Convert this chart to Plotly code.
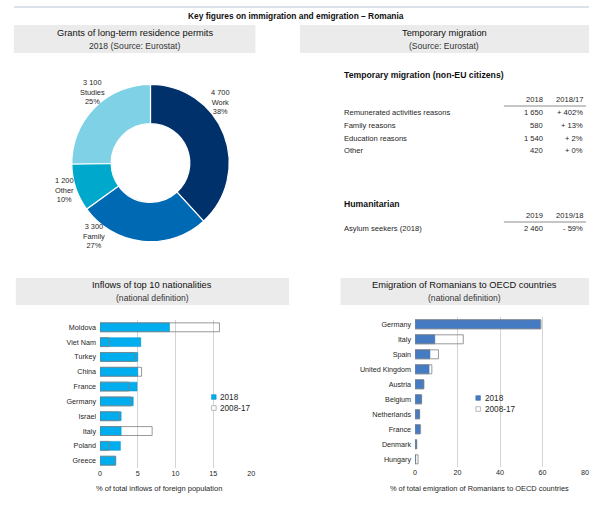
import plotly.graph_objects as go

W, H = 593, 519
FONT = "Liberation Sans, Arial, sans-serif"
TXT = "#262626"

# ---------------- data ----------------
permit_labels = ["Work", "Family", "Other", "Studies"]
permit_values = [4700, 3300, 1200, 3100]
permit_colors = ["#00316b", "#0069b4", "#00a8cb", "#7fd1e5"]

temp_rows = ["Remunerated activities reasons", "Family reasons", "Education reasons", "Other"]
temp_2018 = [1650, 580, 1540, 420]
temp_change = [402, 13, 2, 0]

hum_rows = ["Asylum seekers (2018)"]
hum_2019 = [2460]
hum_change = [-59]

inflow_countries = ["Moldova", "Viet Nam", "Turkey", "China", "France",
                    "Germany", "Israel", "Italy", "Poland", "Greece"]
inflow_2018 = [9.2, 5.4, 5.0, 5.0, 4.9, 4.4, 2.8, 2.8, 2.7, 2.1]
inflow_0817 = [15.8, 1.2, 4.6, 5.5, 3.8, 4.1, 2.5, 6.9, 1.2, 2.0]

emig_countries = ["Germany", "Italy", "Spain", "United Kingdom", "Austria",
                  "Belgium", "Netherlands", "France", "Denmark", "Hungary"]
emig_2018 = [59.0, 9.3, 7.0, 6.6, 4.2, 3.1, 2.2, 2.3, 0.8, 0.3]
emig_0817 = [59.3, 22.7, 11.0, 7.9, 4.0, 2.9, 2.0, 2.6, 0.7, 1.4]

series_names = ["2018", "2008-17"]


def px(x):
    return x / W


def py(y):
    return 1 - y / H


def fmt_int(v):
    return f"{v:,}".replace(",", " ")


def fmt_change(v):
    return ("+ " if v >= 0 else "- ") + f"{abs(v)}%"


fig = go.Figure()

# ---------------- donut ----------------
fig.add_trace(go.Pie(
    labels=permit_labels, values=permit_values, sort=False,
    direction="clockwise", rotation=0, hole=0.5,
    marker=dict(colors=permit_colors, line=dict(color="white", width=1.2)),
    textinfo="none", hoverinfo="label+value+percent",
    domain=dict(x=[px(70.5), px(229.5)], y=[py(242.5), py(83.5)]),
    showlegend=False,
))

total = sum(permit_values)
pie_label_pos = [(221, 102), (93, 236), (63, 190), (91, 92)]
annotations = []
for lab, val, (lx, ly) in zip(permit_labels, permit_values, pie_label_pos):
    annotations.append(dict(
        x=px(lx), y=py(ly), xref="paper", yref="paper", showarrow=False,
        text=f"{fmt_int(val)}<br>{lab}<br>{round(val / total * 100)}%",
        font=dict(family=FONT, size=7.4, color=TXT), align="center",
        xanchor="center", yanchor="middle"))

# ---------------- bar charts ----------------
OUTLINE = "#7f7f7f"
fig.add_trace(go.Bar(
    x=inflow_2018, y=inflow_countries, orientation="h", name=series_names[0],
    marker=dict(color="#00aeef", line=dict(color="#0a8fc4", width=0.5)),
    width=0.6, xaxis="x", yaxis="y", showlegend=False))
fig.add_trace(go.Bar(
    x=inflow_0817, y=inflow_countries, orientation="h", name=series_names[1],
    marker=dict(color="rgba(0,0,0,0)", line=dict(color=OUTLINE, width=0.8)),
    width=0.6, xaxis="x", yaxis="y", showlegend=False))
fig.add_trace(go.Bar(
    x=emig_2018, y=emig_countries, orientation="h", name=series_names[0],
    marker=dict(color="#457bc2", line=dict(color="#3a6aab", width=0.5)),
    width=0.6, xaxis="x2", yaxis="y2", showlegend=False))
fig.add_trace(go.Bar(
    x=emig_0817, y=emig_countries, orientation="h", name=series_names[1],
    marker=dict(color="rgba(0,0,0,0)", line=dict(color=OUTLINE, width=0.8)),
    width=0.6, xaxis="x2", yaxis="y2", showlegend=False))

TICKFONT = dict(family=FONT, size=7.2, color=TXT)
axis_common = dict(showgrid=True, gridcolor="#d4d4d4", gridwidth=1, zeroline=False,
                   tickfont=TICKFONT, ticks="", fixedrange=True)
yaxis_common = dict(showgrid=False, zeroline=False, ticks="", tickfont=TICKFONT,
                    ticklabelstandoff=3, autorange="reversed",
                    categoryorder="array", fixedrange=True)
fig.update_layout(
    xaxis=dict(domain=[px(99), px(251.7)], range=[0, 20], dtick=5, tick0=0,
               anchor="y", **axis_common),
    yaxis=dict(domain=[py(468.1), py(319.9)], anchor="x",
               categoryarray=inflow_countries, **yaxis_common),
    xaxis2=dict(domain=[px(417.3), px(588.9)], range=[0, 80], dtick=20, tick0=0,
                anchor="y2", **axis_common),
    yaxis2=dict(domain=[py(466.8), py(316.8)], anchor="x2",
                categoryarray=emig_countries, **yaxis_common),
    barmode="overlay",
)

# ---------------- shapes (header boxes, rules, legends) ----------------
BOX = "#ebebeb"
shapes = [
    dict(type="line", xref="paper", yref="paper", x0=px(12), x1=px(593),
         y0=py(7), y1=py(7), line=dict(color="#b7c4d3", width=1)),
    dict(type="rect", xref="paper", yref="paper", x0=px(12), x1=px(256),
         y0=py(53), y1=py(25), fillcolor=BOX, line=dict(width=0), layer="below"),
    dict(type="rect", xref="paper", yref="paper", x0=px(301), x1=px(593),
         y0=py(53), y1=py(25), fillcolor=BOX, line=dict(width=0), layer="below"),
    dict(type="rect", xref="paper", yref="paper", x0=px(14), x1=px(290),
         y0=py(305), y1=py(278), fillcolor=BOX, line=dict(width=0), layer="below"),
    dict(type="rect", xref="paper", yref="paper", x0=px(342), x1=px(593),
         y0=py(305), y1=py(278), fillcolor=BOX, line=dict(width=0), layer="below"),
    dict(type="line", xref="paper", yref="paper", x0=px(507), x1=px(590),
         y0=py(106), y1=py(106), line=dict(color="#8c8c8c", width=1)),
    dict(type="line", xref="paper", yref="paper", x0=px(507), x1=px(590),
         y0=py(222), y1=py(222), line=dict(color="#8c8c8c", width=1)),
]

# legends (drawn manually to get the compact look)
legend_specs = [
    (214, 397, "#00aeef", "#0a8fc4"),
    (481, 398, "#457bc2", "#3a6aab"),
]
for lx, ly, col, lcol in legend_specs:
    for i, name in enumerate(series_names):
        yy = ly + i * 11
        fill = col if i == 0 else "white"
        line = lcol if i == 0 else "#8c8c8c"
        shapes.append(dict(type="rect", xref="paper", yref="paper",
                           x0=px(lx - 2.3), x1=px(lx + 2.3),
                           y0=py(yy + 2.3), y1=py(yy - 2.3),
                           fillcolor=fill, line=dict(color=line, width=0.6)))
        annotations.append(dict(x=px(lx + 4.5), y=py(yy), xref="paper", yref="paper",
                                showarrow=False, text=name, xanchor="left",
                                yanchor="middle",
                                font=dict(family=FONT, size=8.2, color=TXT)))


def ann(x, y, text, size=9, anchor="left", bold=False, color=TXT):
    if bold:
        text = f"<b>{text}</b>"
    annotations.append(dict(x=px(x), y=py(y), xref="paper", yref="paper",
                            showarrow=False, text=text, xanchor=anchor,
                            yanchor="middle",
                            font=dict(family=FONT, size=size, color=color)))


# titles
ann(297, 16, "Key figures on immigration and emigration \u2013 Romania", 8.4, "center", bold=True, color="#111")
ann(134, 33, "Grants of long-term residence permits", 9.3, "center", color="#111")
ann(134, 46, "2018 (Source: Eurostat)", 8.6, "center", color="#333")
ann(447, 33, "Temporary migration", 9.3, "center", color="#111")
ann(447, 46, "(Source: Eurostat)", 8.6, "center", color="#333")
ann(152, 284.5, "Inflows of top 10 nationalities", 9.3, "center", color="#111")
ann(152, 298, "(national definition)", 8.6, "center", color="#333")
ann(467, 284.5, "Emigration of Romanians to OECD countries", 9.3, "center", color="#111")
ann(467, 298, "(national definition)", 8.6, "center", color="#333")

# axis titles
ann(159, 488, "% of total inflows of foreign population", 7.5, "center")
ann(482, 488, "% of total emigration of Romanians to OECD countries", 7.4, "center")

# table: temporary migration
TS = 7.6
ann(343, 75, "Temporary migration (non-EU citizens)", 8.7, "left", bold=True, color="#111")
ann(549, 100, "2018", TS, "right")
ann(589, 100, "2018/17", TS, "right")
row_y = [113, 125.5, 138, 150.5]
for yy, lab, v, c in zip(row_y, temp_rows, temp_2018, temp_change):
    ann(343, yy, lab, TS, "left")
    ann(549, yy, fmt_int(v), TS, "right")
    ann(589, yy, fmt_change(c), TS, "right")

# table: humanitarian
ann(343, 204, "Humanitarian", 8.7, "left", bold=True, color="#111")
ann(549, 215, "2019", TS, "right")
ann(589, 215, "2019/18", TS, "right")
for lab, v, c in zip(hum_rows, hum_2019, hum_change):
    ann(343, 228, lab, TS, "left")
    ann(549, 228, fmt_int(v), TS, "right")
    ann(589, 228, fmt_change(c), TS, "right")

fig.update_layout(
    width=W, height=H, margin=dict(l=0, r=0, t=0, b=0),
    paper_bgcolor="white", plot_bgcolor="white",
    font=dict(family=FONT, size=9, color=TXT),
    separators=". ",
    shapes=shapes, annotations=annotations, showlegend=False,
)

fig.write_html("out.html", config={"displayModeBar": False},
               post_script="document.body.style.margin='0';")
